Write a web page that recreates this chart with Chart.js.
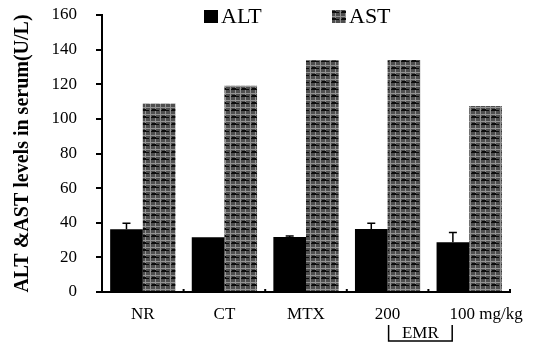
<!DOCTYPE html>
<html>
<head>
<meta charset="utf-8">
<script src="https://cdn.jsdelivr.net/npm/chart.js@4.4.0/dist/chart.umd.min.js"></script>
<style>
  html, body { margin: 0; padding: 0; background: #fff; }
  #wrap { width: 542px; height: 342px; }
</style>
</head>
<body>
<div id="wrap"><canvas id="chart" width="542" height="342"></canvas></div>
<script>
const groups = ["NR", "CT", "MTX", "200", "        100 mg/kg"];
const altValues = [36.2, 31.6, 31.8, 36.4, 28.7];
const altErrors = [3.5, 0, 0.5, 3.3, 5.6];
const astValues = [108.8, 119.2, 133.8, 134, 107.5];
const yTicks = [0, 20, 40, 60, 80, 100, 120, 140, 160];

const SERIF = "'Liberation Serif', 'DejaVu Serif', serif";

// grey checked fill with black streaks, like the scanned AST bars
function makeAstPattern() {
  const c = document.createElement("canvas");
  c.width = 10;
  c.height = 7;
  const g = c.getContext("2d");
  g.fillStyle = "#4e4e4e";
  g.fillRect(0, 0, 10, 7);
  g.fillStyle = "#939393";
  g.fillRect(0, 0, 1, 7);
  g.fillRect(5, 0, 1, 7);
  g.fillRect(0, 2, 10, 1);
  g.fillStyle = "#0c0c0c";
  g.fillRect(1, 5, 8, 1);
  g.fillRect(2, 4, 4, 1);
  return g.createPattern(c, "repeat");
}

const ctx = document.getElementById("chart").getContext("2d");
const astFill = makeAstPattern();

const extras = {
  id: "extras",
  afterDatasetsDraw(chart) {
    const c = chart.ctx;
    const x = chart.scales.x;
    const y = chart.scales.y;
    const meta = chart.getDatasetMeta(0);
    c.save();
    c.strokeStyle = "#000";
    c.lineWidth = 1.5;
    // ALT error bars (upper half)
    meta.data.forEach((bar, i) => {
      if (!altErrors[i]) return;
      const top = y.getPixelForValue(altValues[i] + altErrors[i]);
      c.beginPath();
      c.moveTo(bar.x, bar.y);
      c.lineTo(bar.x, top);
      c.moveTo(bar.x - 4, top);
      c.lineTo(bar.x + 4, top);
      c.stroke();
    });
    // small marks between groups
    c.lineWidth = 2;
    const step = (x.right - x.left) / groups.length;
    for (let k = 1; k <= groups.length; k++) {
      const px = x.left + step * k;
      c.beginPath();
      c.moveTo(px, y.bottom);
      c.lineTo(px, y.bottom - 3);
      c.stroke();
    }
    c.restore();
  },
  afterDraw(chart) {
    const c = chart.ctx;
    const x = chart.scales.x;
    const area = chart.chartArea;
    c.save();
    // legend
    c.font = "22px " + SERIF;
    c.textBaseline = "middle";
    c.fillStyle = "#000";
    const items = [
      { label: chart.data.datasets[0].label, fill: "#000", at: area.left + 102 },
      { label: chart.data.datasets[1].label, fill: astFill, at: area.left + 230 }
    ];
    items.forEach(it => {
      c.fillStyle = it.fill;
      c.fillRect(it.at, 10, 14, 13);
      c.fillStyle = "#000";
      c.fillText(it.label, it.at + 17, 17);
    });
    // EMR bracket under the two dose groups
    const l = x.getPixelForValue(3) + 1;
    const r = x.getPixelForValue(4) - 17;
    c.strokeStyle = "#000";
    c.lineWidth = 1.5;
    c.beginPath();
    c.moveTo(l, 325);
    c.lineTo(l, 341);
    c.lineTo(r, 341);
    c.lineTo(r, 325);
    c.stroke();
    c.font = "17px " + SERIF;
    c.textAlign = "center";
    c.textBaseline = "alphabetic";
    c.fillText("EMR", (l + r) / 2, 338);
    c.restore();
  }
};

new Chart(ctx, {
  type: "bar",
  data: {
    labels: groups,
    datasets: [
      {
        label: "ALT",
        data: altValues,
        backgroundColor: "#000",
        categoryPercentage: 0.8,
        barPercentage: 1
      },
      {
        label: "AST",
        data: astValues,
        backgroundColor: astFill,
        categoryPercentage: 0.8,
        barPercentage: 1
      }
    ]
  },
  options: {
    responsive: false,
    animation: false,
    layout: { padding: { top: 0, right: 32, bottom: 0, left: 0 } },
    plugins: {
      legend: { display: false },
      tooltip: { enabled: false }
    },
    scales: {
      x: {
        grid: { display: false, drawTicks: false },
        border: { display: true, color: "#000", width: 2 },
        ticks: {
          color: "#000", padding: 12, maxRotation: 0, minRotation: 0, autoSkip: false,
          font: { family: SERIF, size: 17 }
        },
        afterFit(s) { s.height = 50; }
      },
      y: {
        min: 0,
        max: 160,
        afterBuildTicks(s) { s.ticks = yTicks.map(v => ({ value: v })); },
        grid: { display: true, drawOnChartArea: false, tickLength: 6, color: "#000", lineWidth: 2 },
        border: { display: true, color: "#000", width: 2 },
        ticks: { color: "#000", padding: 19, font: { family: SERIF, size: 17 } },
        title: {
          display: true,
          text: "ALT &AST levels in serum(U/L)",
          color: "#000",
          padding: { top: 11, bottom: 0 },
          font: { family: SERIF, size: 20, weight: "bold" }
        },
        afterFit(s) {
          s.width = 102;
          s.paddingTop = 15;
          s.paddingBottom = 0;
        }
      }
    }
  },
  plugins: [extras]
});
</script>
</body>
</html>
